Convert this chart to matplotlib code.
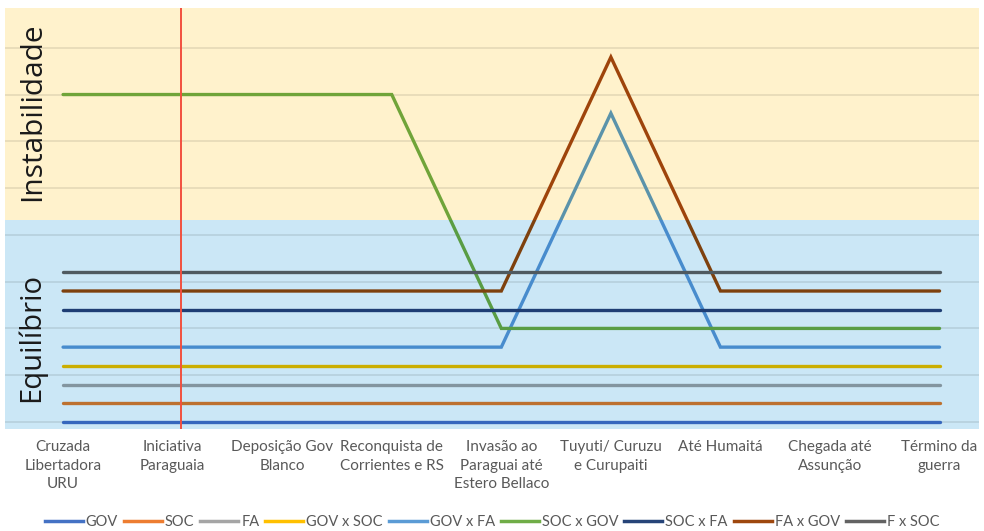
import matplotlib
matplotlib.use("Agg")
import matplotlib.pyplot as plt
from matplotlib.lines import Line2D
from matplotlib.patches import Rectangle
from matplotlib.colors import to_rgb

categories = [
    "Cruzada\nLibertadora\nURU",
    "Iniciativa\nParaguaia",
    "Deposição Gov\nBlanco",
    "Reconquista de\nCorrientes e RS",
    "Invasão ao\nParaguai até\nEstero Bellaco",
    "Tuyuti/ Curuzu\ne Curupaiti",
    "Até Humaitá",
    "Chegada até\nAssunção",
    "Término da\nguerra",
]

series_names = ["GOV", "SOC", "FA", "GOV x SOC", "GOV x FA",
                "SOC x GOV", "SOC x FA", "FA x GOV", "F x SOC"]
series_colors = ["#4472c4", "#ed7d31", "#a5a5a5", "#ffc000", "#5b9bd5",
                 "#70ad47", "#264478", "#9e480e", "#636363"]

gov       = [0.0, 0.0, 0.0, 0.0, 0.0, 0.0, 0.0, 0.0, 0.0]
soc       = [0.4, 0.4, 0.4, 0.4, 0.4, 0.4, 0.4, 0.4, 0.4]
fa        = [0.8, 0.8, 0.8, 0.8, 0.8, 0.8, 0.8, 0.8, 0.8]
gov_x_soc = [1.2, 1.2, 1.2, 1.2, 1.2, 1.2, 1.2, 1.2, 1.2]
gov_x_fa  = [1.6, 1.6, 1.6, 1.6, 1.6, 6.6, 1.6, 1.6, 1.6]
soc_x_gov = [7.0, 7.0, 7.0, 7.0, 2.0, 2.0, 2.0, 2.0, 2.0]
soc_x_fa  = [2.4, 2.4, 2.4, 2.4, 2.4, 2.4, 2.4, 2.4, 2.4]
fa_x_gov  = [2.8, 2.8, 2.8, 2.8, 2.8, 7.8, 2.8, 2.8, 2.8]
f_x_soc   = [3.2, 3.2, 3.2, 3.2, 3.2, 3.2, 3.2, 3.2, 3.2]
series_values = [gov, soc, fa, gov_x_soc, gov_x_fa, soc_x_gov, soc_x_fa, fa_x_gov, f_x_soc]

band_boundary = 4.32      # limit between "Equilíbrio" and "Instabilidade"
marker_event = 1.08       # red vertical marker (Iniciativa Paraguaia)

yellow_bg = "#fff2cc"
blue_bg = "#cbe7f6"

xmin, xmax = -0.53, 8.36
ymin, ymax = -0.15, 8.85

def multiply(c, bg):
    a = to_rgb(c); b = to_rgb(bg)
    return tuple(x * y for x, y in zip(a, b))

fig = plt.figure(figsize=(9.84, 5.31), dpi=100)
ax = fig.add_axes([5/984, (531-429)/531, (979-5)/984, (429-8)/531])
ax.set_xlim(xmin, xmax)
ax.set_ylim(ymin, ymax)

ax.axhspan(band_boundary, ymax, color=yellow_bg, zorder=0, lw=0)
ax.axhspan(ymin, band_boundary, color=blue_bg, zorder=0, lw=0)

ax.set_yticks(range(0, 9))
ax.yaxis.grid(True, color="k", alpha=0.09, linewidth=1.4, zorder=1)
ax.set_axisbelow(True)
ax.tick_params(axis="y", left=False, labelleft=False)

x = list(range(len(categories)))
for vals, col in zip(series_values, series_colors):
    for bg, y0, y1 in ((yellow_bg, band_boundary, ymax), (blue_bg, ymin, band_boundary)):
        ln, = ax.plot(x, vals, color=multiply(col, bg), lw=2.4,
                      solid_capstyle="round", solid_joinstyle="miter", zorder=3)
        clip = Rectangle((xmin, y0), xmax - xmin, y1 - y0, transform=ax.transData)
        ln.set_clip_path(clip)

ax.axvline(marker_event, color="#f2503f", lw=1.4, zorder=4)

ax.set_xticks(x)
ax.set_xticklabels(categories, fontsize=11, color="#595959",
                   family=["Lato", "DejaVu Sans"],
                   linespacing=1.4, va="top")
ax.tick_params(axis="x", length=0, pad=8)
for s in ax.spines.values():
    s.set_visible(False)

ax.text(-0.275, 6.63, "Instabilidade", rotation=90,
        ha="center", va="center", fontsize=21.5, color="#1a1a1a", family="Open Sans")
ax.text(-0.29, 1.8, "Equilíbrio", rotation=90,
        ha="center", va="center", fontsize=21, color="#1a1a1a", family="Open Sans")

handles = [Line2D([], [], color=c, lw=2.5) for c in series_colors]
fig.legend(handles, series_names, loc="center", bbox_to_anchor=(0.5, 0.017),
           ncol=9, frameon=False, handlelength=2.6, handletextpad=0.2,
           columnspacing=0.42,
           prop={"family": ["Lato", "DejaVu Sans"], "size": 10.5},
           labelcolor="#595959")

fig.savefig("out.png", dpi=100)
